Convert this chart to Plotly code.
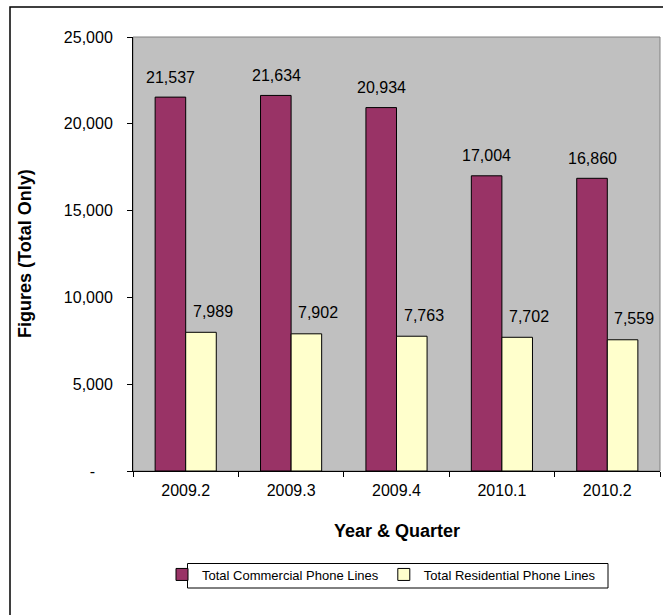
import plotly.graph_objects as go

quarters = ["2009.2", "2009.3", "2009.4", "2010.1", "2010.2"]
commercial = [21537, 21634, 20934, 17004, 16860]
residential = [7989, 7902, 7763, 7702, 7559]
ytick_vals = [0, 5000, 10000, 15000, 20000, 25000]
ytick_text = ["-\u00a0\u00a0\u00a0\u00a0", "5,000", "10,000", "15,000", "20,000", "25,000"]

W, H = 663, 615
L, R, T, B = 133, 3, 37, 144
pw = W - L - R
ph = H - T - B

def px_x(x):
    return (x - L) / pw

def px_y(y):
    return (H - B - y) / ph

FONT = "Liberation Sans, Arial, sans-serif"

fig = go.Figure()
fig.add_trace(go.Bar(name="Total Commercial Phone Lines", x=quarters, y=commercial,
                     marker=dict(color="#993366", line=dict(color="black", width=1))))
fig.add_trace(go.Bar(name="Total Residential Phone Lines", x=quarters, y=residential,
                     marker=dict(color="#FFFFCC", line=dict(color="black", width=1))))

annotations = []
for i, v in enumerate(commercial):
    annotations.append(dict(x=i, y=v, xref="x", yref="y", text=f"{v:,}", showarrow=False,
                            xshift=-15, yshift=20, yanchor="middle",
                            font=dict(family=FONT, size=16, color="black")))
for i, v in enumerate(residential):
    annotations.append(dict(x=i, y=v, xref="x", yref="y", text=f"{v:,}", showarrow=False,
                            xshift=27, yshift=21, yanchor="middle",
                            font=dict(family=FONT, size=16, color="black")))
annotations.append(dict(x=0.5, y=px_y(531), xref="paper", yref="paper", text="<b>Year & Quarter</b>",
                        showarrow=False, yanchor="middle",
                        font=dict(family=FONT, size=18, color="black")))
annotations.append(dict(x=px_x(25), y=0.5, xref="paper", yref="paper", text="<b>Figures (Total Only)</b>",
                        showarrow=False, textangle=-90, xanchor="center", yanchor="middle",
                        font=dict(family=FONT, size=18, color="black")))

shapes = [
    dict(type="rect", xref="paper", yref="paper", x0=0, x1=1, y0=0, y1=1,
         line=dict(color="#808080", width=1), layer="below"),
    dict(type="rect", xref="paper", yref="paper", x0=px_x(10), x1=px_x(W + 20),
         y0=px_y(H + 20), y1=px_y(7), line=dict(color="black", width=1.5)),
    # legend frame
    dict(type="rect", xref="paper", yref="paper", x0=px_x(187.5), x1=px_x(608),
         y0=px_y(588), y1=px_y(563.5), line=dict(color="black", width=1)),
]

fig.update_layout(
    width=W, height=H,
    margin=dict(l=L, r=R, t=T, b=B, autoexpand=False),
    barmode="group", bargap=0.42, bargroupgap=0,
    plot_bgcolor="#C0C0C0", paper_bgcolor="white",
    font=dict(family=FONT, size=16, color="black"),
    xaxis=dict(type="category", categoryorder="array", categoryarray=quarters,
               range=[-0.5, len(quarters) - 0.5], autorange=False,
               showgrid=False, showline=True, linecolor="black", linewidth=1,
               ticks="outside", ticklen=5, tickcolor="black", tickson="boundaries",
               ticklabelstandoff=5, tickangle=0, tickfont=dict(size=16)),
    yaxis=dict(range=[0, 25000], showgrid=False, zeroline=False, showline=True, linecolor="black",
               linewidth=1, ticks="outside", ticklen=5, tickcolor="black",
               tickvals=ytick_vals, ticktext=ytick_text, ticklabelstandoff=11,
               tickfont=dict(size=16)),
    legend=dict(orientation="h", x=px_x(162), xanchor="left", y=px_y(559.5), yanchor="top",
                borderwidth=0, bgcolor="rgba(0,0,0,0)",
                font=dict(family=FONT, size=13), itemwidth=30, traceorder="normal"),
    annotations=annotations,
    shapes=shapes,
    showlegend=True,
)

fig.write_html("out.html", config={"displayModeBar": False},
               post_script="document.body.style.margin='0';document.body.style.overflow='hidden';")
